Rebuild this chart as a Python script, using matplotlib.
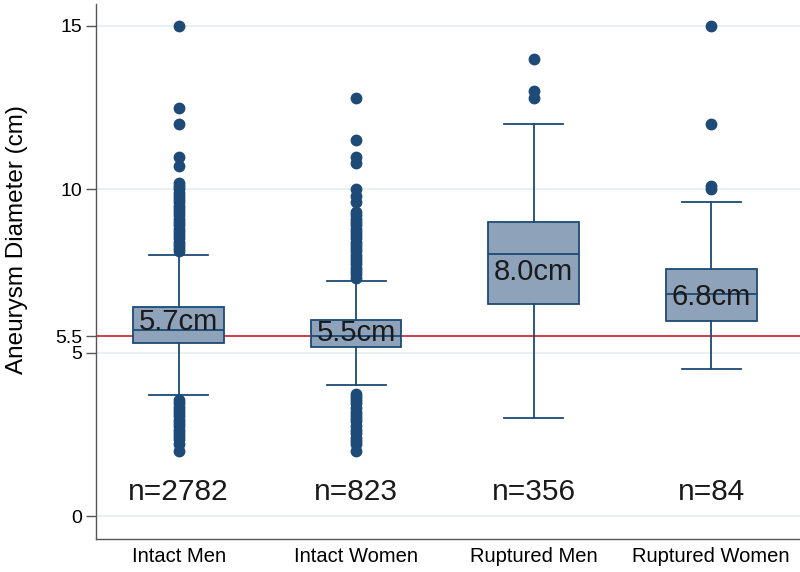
import matplotlib
matplotlib.use("Agg")
import matplotlib.pyplot as plt

# 数据：箱线图统计量（单位 cm）
groups = ["Intact Men", "Intact Women", "Ruptured Men", "Ruptured Women"]
counts = ["n=2782", "n=823", "n=356", "n=84"]
median_labels = ["5.7cm", "5.5cm", "8.0cm", "6.8cm"]
q1 = [5.30, 5.17, 6.49, 5.97]
medians = [5.69, 5.50, 8.02, 6.80]
q3 = [6.40, 6.00, 9.00, 7.56]
whislo = [3.70, 4.00, 3.00, 4.50]
whishi = [7.99, 7.19, 12.00, 9.60]

# 离群点
fliers_men = [15.0, 12.5, 12.0, 11.0, 10.7, 10.2, 10.1, 10.0, 9.9, 9.8, 9.7, 9.6,
              9.5, 9.4, 9.3, 9.2, 9.1, 9.0, 8.9, 8.8, 8.7, 8.6, 8.5, 8.4, 8.3,
              8.2, 8.1, 3.55, 3.45, 3.35, 3.25, 3.15, 3.05, 2.95, 2.85, 2.75,
              2.65, 2.55, 2.45, 2.35, 2.2, 2.0]
fliers_women = [12.8, 11.5, 11.0, 10.8, 10.0, 9.8, 9.6, 9.3, 9.2, 9.1, 9.0, 8.9,
                8.8, 8.7, 8.6, 8.5, 8.4, 8.3, 8.2, 8.1, 8.0, 7.9, 7.8, 7.7,
                7.6, 7.5, 7.4, 7.3, 3.75, 3.65, 3.55, 3.45, 3.3, 3.2, 3.1, 3.0,
                2.9, 2.75, 2.65, 2.55, 2.4, 2.3, 2.2, 2.0]
fliers_rmen = [14.0, 13.0, 12.8]
fliers_rwomen = [15.0, 12.0, 10.1, 10.0]
fliers = [fliers_men, fliers_women, fliers_rmen, fliers_rwomen]

threshold = 5.5

navy = "#1d4a76"
fill = "#8ea2ba"

plt.rcParams["font.family"] = ["Liberation Sans", "DejaVu Sans"]

fig = plt.figure(figsize=(8, 5.72), dpi=100)
ax = fig.add_axes([0.12, 0.0577, 0.88, 0.9353])

stats = []
for i in range(len(groups)):
    stats.append({"label": groups[i], "q1": q1[i], "med": medians[i],
                  "q3": q3[i], "whislo": whislo[i], "whishi": whishi[i],
                  "fliers": fliers[i]})

positions = [1, 2, 3, 4]
ax.bxp(stats, positions=positions, widths=0.51, patch_artist=True,
       capwidths=0.33,
       boxprops=dict(facecolor=fill, edgecolor=navy, linewidth=1.3),
       medianprops=dict(color=navy, linewidth=1.3),
       whiskerprops=dict(color=navy, linewidth=1.3),
       capprops=dict(color=navy, linewidth=1.3),
       flierprops=dict(marker="o", markerfacecolor=navy, markeredgecolor=navy,
                       markersize=7.5, linestyle="none"),
       zorder=3)

# 5.5cm 阈值线
ax.axhline(threshold, color="#d42a3a", linewidth=1.3, zorder=2)

# 文字标注
label_y = [5.94, 5.6, 7.47, 6.7]
for i, x in enumerate(positions):
    ax.text(x, label_y[i], median_labels[i], ha="center", va="center",
            fontsize=21, color="#1a1a1a", zorder=5)
    ax.text(x, 0.73, counts[i], ha="center", va="center",
            fontsize=21.5, color="#1a1a1a", zorder=5)

ax.set_xlim(0.534, 4.5)
ax.set_ylim(-0.70, 15.67)
ax.set_yticks([0, 5, 5.5, 10, 15])
ax.set_yticklabels(["0", "5", "5.5", "10", "15"], fontsize=14)
ax.set_xticks(positions)
ax.set_xticklabels(groups, fontsize=14.5)
ax.tick_params(axis="x", length=0, pad=6)
ax.tick_params(axis="y", length=7, width=1, color="#555555", pad=3)
for v in [0, 5, 10, 15]:
    ax.axhline(v, color="#e4eef0", linewidth=1.2, zorder=0)
ax.set_ylabel("Aneurysm Diameter (cm)", fontsize=17.5)
ax.yaxis.set_label_coords(-0.097, 0.559)

for side in ["top", "right"]:
    ax.spines[side].set_visible(False)
for side in ["left", "bottom"]:
    ax.spines[side].set_color("#555555")
    ax.spines[side].set_linewidth(1)

fig.savefig("out.png", dpi=100)
